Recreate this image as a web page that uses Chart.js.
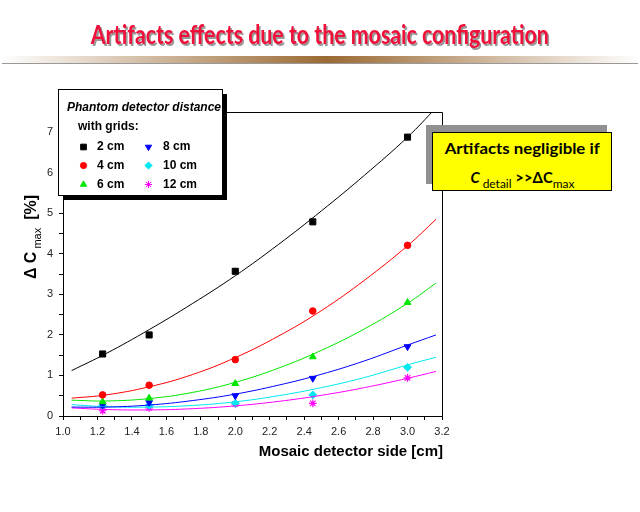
<!DOCTYPE html>
<html>
<head>
<meta charset="utf-8">
<script src="https://cdn.jsdelivr.net/npm/chart.js@4.4.1/dist/chart.umd.min.js"></script>
<style>
html,body{margin:0;padding:0;background:#fff;}
#wrap{position:relative;width:640px;height:512px;overflow:hidden;background:#fff;}
#c{position:absolute;left:0;top:0;}
#title{position:absolute;left:0;top:20px;width:640px;text-align:center;white-space:nowrap;line-height:27px;height:32px;}
#title span{display:inline-block;font-family:Lato,"DejaVu Sans",sans-serif;font-weight:bold;font-size:27px;color:#f0103a;text-shadow:2px 2px 0 #9a9a9a;transform-origin:center center;}
#bar{position:absolute;left:0;top:56px;width:640px;height:7px;background:linear-gradient(to right,rgba(255,255,255,0) 0%,#9b6a34 51%,rgba(255,255,255,0) 100%);}
#barline{position:absolute;left:2px;top:63px;width:636px;height:1px;background:#999;}
#gbox{position:absolute;left:426px;top:125px;width:181px;height:59px;background:#909090;}
#ybox{position:absolute;left:432px;top:132px;width:178px;height:57px;background:#ffff00;border:1px solid #000;}
.yl{position:absolute;left:0;width:178px;text-align:center;white-space:nowrap;font-family:Lato,"DejaVu Sans",sans-serif;color:#000;}
.yl span.in{display:inline-block;transform-origin:center center;}
#yl1{top:5px;font-weight:bold;font-size:15px;line-height:20px;}
#yl2{top:34px;font-size:15px;line-height:20px;}
.sub{font-size:12px;font-weight:normal;font-style:normal;position:relative;top:5px;}
</style>
</head>
<body>
<div id="wrap">
<canvas id="c" width="640" height="512"></canvas>
<div id="title"><span id="tt">Artifacts effects due to the mosaic configuration</span></div>
<div id="bar"></div>
<div id="barline"></div>
<div id="gbox"></div>
<div id="ybox">
  <div class="yl" id="yl1"><span class="in" id="yt1">Artifacts negligible if</span></div>
  <div class="yl" id="yl2"><span class="in" id="yt2"><b><i>C</i></b><span class="sub">&nbsp;detail</span>&nbsp;<b>&gt;&gt;ΔC</b><span class="sub">max</span></span></div>
</div>
</div>
<script>
// ---- data ----
const pointX = [1.23, 1.5, 2.0, 2.45, 3.0];
const dist2cm  = [1.53, 2.00, 3.57, 4.79, 6.88];
const dist4cm  = [0.52, 0.76, 1.39, 2.59, 4.21];
const dist6cm  = [0.35, 0.44, 0.80, 1.46, 2.80];
const dist8cm  = [0.27, 0.33, 0.50, 0.93, 1.71];
const dist10cm = [0.25, 0.26, 0.31, 0.52, 1.20];
const dist12cm = [0.13, 0.20, 0.30, 0.31, 0.94];

const fitX = [1.05, 1.25, 1.5, 1.75, 2.0, 2.25, 2.5, 2.75, 3.0, 3.165];
const fit2cm  = [1.12, 1.54, 2.13, 2.77, 3.46, 4.23, 5.06, 5.94, 6.88, 7.60];
const fit4cm  = [0.44, 0.52, 0.72, 1.02, 1.44, 1.97, 2.60, 3.35, 4.20, 4.85];
const fit6cm  = [0.39, 0.37, 0.43, 0.58, 0.83, 1.18, 1.62, 2.15, 2.78, 3.28];
const fit8cm  = [0.22, 0.22, 0.27, 0.38, 0.54, 0.76, 1.03, 1.36, 1.75, 2.00];
const fit10cm = [0.28, 0.23, 0.22, 0.26, 0.35, 0.50, 0.70, 0.95, 1.26, 1.45];
const fit12cm = [0.20, 0.16, 0.15, 0.18, 0.25, 0.36, 0.51, 0.70, 0.93, 1.10];

const seriesLabels = ['2 cm', '4 cm', '6 cm', '8 cm', '10 cm', '12 cm'];
const seriesColors = ['#000000', '#ff0000', '#00e600', '#0000ff', '#00e8f0', '#ff00ff'];
const seriesStyles = ['rect', 'circle', 'triangle', 'triangle', 'rectRot', 'star'];
const seriesRot = [0, 0, 0, 180, 0, 0];

const legendTitle1 = 'Phantom detector distance';
const legendTitle2 = 'with grids:';
const xTitle = 'Mosaic detector side [cm]';

const pointSets = [dist2cm, dist4cm, dist6cm, dist8cm, dist10cm, dist12cm];
const fitSets = [fit2cm, fit4cm, fit6cm, fit8cm, fit10cm, fit12cm];

const FONT = 'Arial, "Liberation Sans", sans-serif';
Chart.defaults.font.family = FONT;

function markRadius(style, legend) {
  if (style === 'rect') return legend ? 4 : 4.3;
  if (style === 'circle') return legend ? 3.1 : 3.3;
  return legend ? 3.6 : 3.9;
}

const datasets = [];
fitSets.forEach((arr, i) => {
  datasets.push({
    type: 'line',
    data: fitX.map((x, k) => ({x: x, y: arr[k]})),
    borderColor: seriesColors[i],
    borderWidth: 1,
    pointRadius: 0,
    tension: 0.4,
    fill: false
  });
});
pointSets.forEach((arr, i) => {
  datasets.push({
    type: 'scatter',
    data: pointX.map((x, k) => ({x: x, y: arr[k]})),
    backgroundColor: seriesColors[i],
    borderColor: seriesColors[i],
    borderWidth: seriesStyles[i] === 'star' ? 1.2 : 1,
    pointStyle: seriesStyles[i],
    rotation: seriesRot[i],
    pointRadius: markRadius(seriesStyles[i], false),
    showLine: false
  });
});

const decor = {
  id: 'decor',
  afterDraw(chart) {
    const ctx = chart.ctx;
    const a = chart.chartArea;
    ctx.save();
    // frame top/right
    ctx.strokeStyle = '#000';
    ctx.lineWidth = 1;
    ctx.beginPath();
    ctx.moveTo(a.left, Math.round(a.top) + 0.5);
    ctx.lineTo(Math.round(a.right) + 0.5, Math.round(a.top) + 0.5);
    ctx.lineTo(Math.round(a.right) + 0.5, a.bottom);
    ctx.stroke();

    // legend box
    const bx = 58, by = 89, bw = 164, bh = 106;
    ctx.fillStyle = '#000';
    ctx.fillRect(bx + 5, by + 5, bw, bh);
    ctx.fillStyle = '#fff';
    ctx.fillRect(bx, by, bw, bh);
    ctx.strokeStyle = '#000';
    ctx.strokeRect(bx + 0.5, by + 0.5, bw, bh);
    ctx.fillStyle = '#000';
    ctx.textBaseline = 'middle';
    ctx.textAlign = 'left';
    ctx.font = 'italic bold 12px ' + FONT;
    ctx.fillText(legendTitle1, 67, 108);
    ctx.font = 'bold 12px ' + FONT;
    ctx.fillText(legendTitle2, 78, 127);
    const rowsY = [147, 165.5, 184.5];
    const colMark = [83.5, 148.5];
    const colText = [97, 163];
    seriesLabels.forEach((lab, i) => {
      const col = Math.floor(i / 3), row = i % 3;
      ctx.fillStyle = seriesColors[i];
      ctx.strokeStyle = seriesColors[i];
      ctx.lineWidth = 1;
      Chart.helpers.drawPoint(ctx, {
        pointStyle: seriesStyles[i], rotation: seriesRot[i],
        radius: markRadius(seriesStyles[i], true), borderWidth: 1
      }, colMark[col], rowsY[row]);
      ctx.fillStyle = '#000';
      ctx.font = 'bold 12px ' + FONT;
      ctx.fillText(lab, colText[col], rowsY[row]);
    });

    // x title
    ctx.fillStyle = '#000';
    ctx.font = 'bold 15px ' + FONT;
    ctx.textAlign = 'right';
    ctx.textBaseline = 'middle';
    ctx.fillText(xTitle, 443, 452);

    // y title (rotated)
    ctx.translate(32, 237);
    ctx.rotate(-Math.PI / 2);
    ctx.textAlign = 'left';
    const pieces = [
      {t: 'Δ C', f: 'bold 16px ' + FONT, dy: 0, gap: 3},
      {t: 'max', f: '11px ' + FONT, dy: 6, gap: 8},
      {t: '[%]', f: 'bold 16px ' + FONT, dy: 0, gap: 0}
    ];
    let total = 0;
    pieces.forEach(p => { ctx.font = p.f; p.w = ctx.measureText(p.t).width; total += p.w + p.gap; });
    let x = -total / 2;
    pieces.forEach(p => { ctx.font = p.f; ctx.fillText(p.t, x, p.dy); x += p.w + p.gap; });
    ctx.restore();
  }
};

new Chart(document.getElementById('c'), {
  type: 'scatter',
  data: {datasets: datasets},
  options: {
    responsive: false,
    animation: false,
    events: [],
    layout: {padding: {top: 112, right: 198, left: 0, bottom: 0}},
    plugins: {legend: {display: false}, tooltip: {enabled: false}, title: {display: false}},
    scales: {
      x: {
        type: 'linear', min: 1.0, max: 3.2,
        afterFit(s) { s.height = 96; },
        ticks: {
          stepSize: 0.1, autoSkip: false, maxRotation: 0, minRotation: 0, padding: 5,
          color: '#222', font: {size: 11},
          callback: (v, i) => (i % 2 === 0 ? Number(v).toFixed(1) : '')
        },
        grid: {drawOnChartArea: false, drawTicks: true, tickLength: 4, color: '#000'},
        border: {display: true, color: '#000', width: 1}
      },
      y: {
        type: 'linear', min: 0, max: 7.5,
        afterFit(s) { s.width = 63; },
        ticks: {
          stepSize: 0.5, autoSkip: false, padding: 6,
          color: '#222', font: {size: 11},
          callback: (v) => (Math.abs(v - Math.round(v)) < 1e-6 && v <= 7 ? String(Math.round(v)) : '')
        },
        grid: {drawOnChartArea: false, drawTicks: true, tickLength: 4, color: '#000'},
        border: {display: true, color: '#000', width: 1}
      }
    }
  },
  plugins: [decor]
});

function fitWidth(id, w) {
  const el = document.getElementById(id);
  const cur = el.getBoundingClientRect().width;
  if (cur > 0) el.style.transform = 'scaleX(' + (w / cur) + ')';
}
fitWidth('tt', 458);
fitWidth('yt1', 155);
fitWidth('yt2', 104);
</script>
</body>
</html>
